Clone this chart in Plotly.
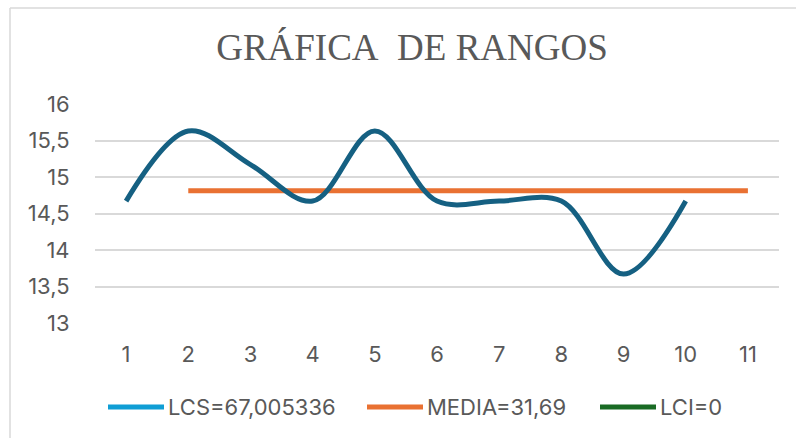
import plotly.graph_objects as go

# Sample number (x axis categories)
muestras = [1, 2, 3, 4, 5, 6, 7, 8, 9, 10, 11]

# Range of each sample
rangos = [14.67, 15.63, 15.17, 14.67, 15.63, 14.67, 14.67, 14.67, 13.67, 14.67]

# Control limits drawn as horizontal series (sample 2 to 11)
media = [None, 14.81, 14.81, 14.81, 14.81, 14.81, 14.81, 14.81, 14.81, 14.81, 14.81]
lcs = [None] + [67.005336] * 10
lci = [None] + [0] * 10

legend_names = ["LCS=67,005336", "MEDIA=31,69", "LCI=0"]
legend_colors = ["#0F9ED5", "#E97132", "#196B24"]

y_ticks = [13, 13.5, 14, 14.5, 15, 15.5, 16]

TEXT = "#595959"
GRID = "#D9D9D9"
FONT = "Inter"

W, H = 796, 438
L, R, T, B = 95, 17, 104, 115
PW, PH = W - L - R, H - T - B


def px(x):
    return (x - L) / PW


def py(y):
    return (H - B - y) / PH


fig = go.Figure()

fig.add_trace(go.Scatter(x=muestras, y=lcs, mode="lines", name=legend_names[0],
                         line=dict(color=legend_colors[0], width=5), showlegend=False))
fig.add_trace(go.Scatter(x=muestras, y=media, mode="lines", name=legend_names[1],
                         line=dict(color=legend_colors[1], width=5), showlegend=False))
fig.add_trace(go.Scatter(x=muestras, y=lci, mode="lines", name=legend_names[2],
                         line=dict(color=legend_colors[2], width=5), showlegend=False))
fig.add_trace(go.Scatter(x=muestras[:len(rangos)], y=rangos, mode="lines", name="Rango",
                         line=dict(color="#156082", width=5, shape="spline", smoothing=1),
                         showlegend=False))

shapes = []
annotations = []

# Legend row below the plot
legend_x = [108, 367, 600]
for name, color, x0 in zip(legend_names, legend_colors, legend_x):
    shapes.append(dict(type="line", xref="paper", yref="paper",
                       x0=px(x0), x1=px(x0 + 56), y0=py(407), y1=py(407),
                       line=dict(color=color, width=5)))
    annotations.append(dict(text=name, xref="paper", yref="paper",
                            x=px(x0 + 58), y=py(407), xanchor="left", yanchor="middle",
                            showarrow=False, font=dict(family=FONT, size=22, color=TEXT)))

# Chart frame
shapes.append(dict(type="line", xref="paper", yref="paper",
                   x0=px(10), x1=px(10), y0=py(8), y1=py(440),
                   line=dict(color=GRID, width=1.5)))
shapes.append(dict(type="line", xref="paper", yref="paper",
                   x0=px(10), x1=px(800), y0=py(8), y1=py(8),
                   line=dict(color=GRID, width=1.5)))

fig.update_layout(
    width=W, height=H,
    margin=dict(l=L, r=R, t=T, b=B),
    paper_bgcolor="white", plot_bgcolor="white",
    separators=",.",
    hovermode=False,
    title=dict(text="GRÁFICA\u00a0 DE RANGOS", xref="container", x=412 / W, xanchor="center",
               yref="container", y=1 - 47 / H, yanchor="middle",
               font=dict(family="Liberation Serif", size=37, color=TEXT)),
    xaxis=dict(range=[0.5, 11.5], tickvals=muestras, showgrid=False, zeroline=False,
               showline=False, ticks="outside", ticklen=12, tickcolor="rgba(0,0,0,0)",
               tickfont=dict(family=FONT, size=22, color=TEXT)),
    yaxis=dict(range=[13, 16], tickvals=y_ticks, showgrid=True, gridcolor=GRID,
               gridwidth=1.5, zeroline=False, showline=False, ticks="outside",
               ticklen=20, tickcolor="rgba(0,0,0,0)",
               tickfont=dict(family=FONT, size=22, color=TEXT)),
    shapes=shapes,
    annotations=annotations,
)

fig.write_html("out.html")
